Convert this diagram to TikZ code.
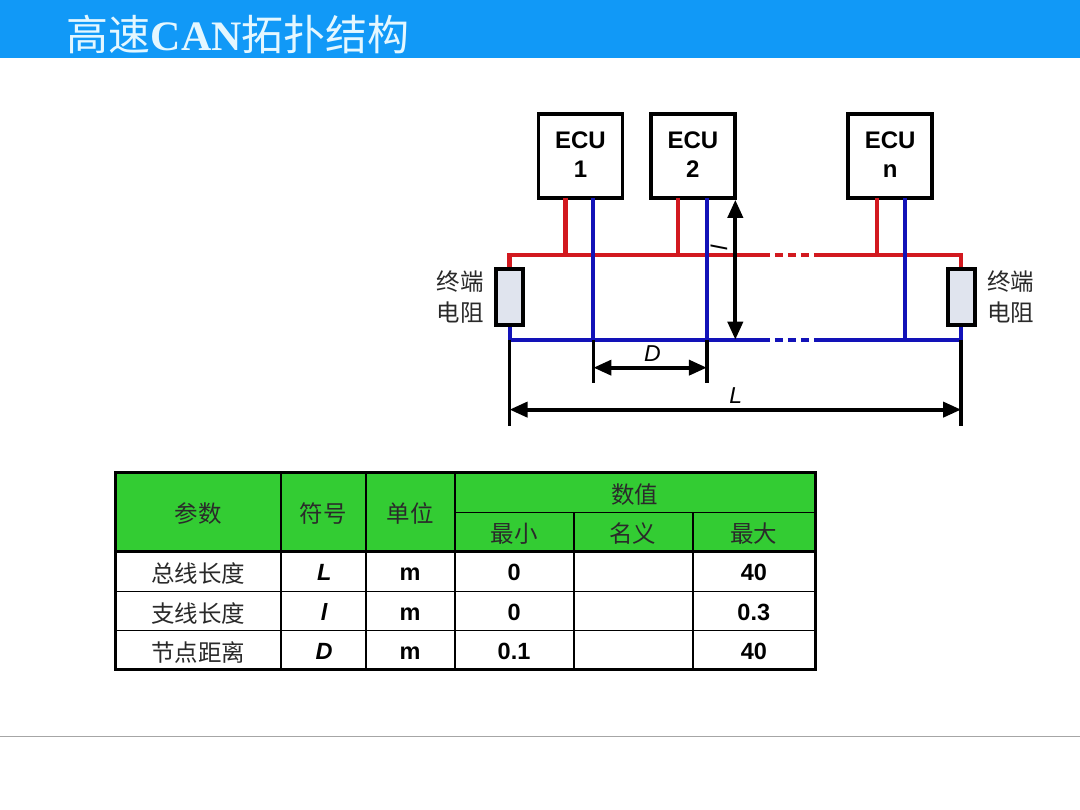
\documentclass[tikz,border=0pt]{standalone}
\usepackage{fontspec}
\setmainfont{Liberation Sans}
\newfontfamily\cjk{Noto Sans CJK SC}
\newfontfamily\titlelatin{Liberation Serif}
\usetikzlibrary{arrows.meta,positioning}
\definecolor{headblue}{HTML}{1199F7}
\definecolor{titletext}{HTML}{E4F7FF}
\definecolor{wirered}{HTML}{D2191F}
\definecolor{wireblue}{HTML}{1212B8}
\definecolor{resfill}{HTML}{E0E4EE}
\definecolor{tablegreen}{HTML}{33CC33}
\definecolor{cjktext}{HTML}{2A2A2A}

\begin{document}
\begin{tikzpicture}[x=1pt,y=-1pt]
        \tikzstyle{every node}+=[inner sep=0pt]
        \tikzstyle{ecubox}=[draw=black,fill=white,line width=3.8pt,minimum width=84pt,minimum height=84pt,align=center,text depth=2.5pt,font=\fontsize{24}{29}\selectfont\bfseries]
        \tikzstyle{resbox}=[draw=black,fill=resfill,line width=4pt,minimum width=27pt,minimum height=56pt]
        \tikzstyle{redwire}=[draw=wirered,line width=4.2pt]
        \tikzstyle{bluewire}=[draw=wireblue,line width=4pt]
        \tikzstyle{dimline}=[draw=black,line width=3.8pt]
        \tikzstyle{dimarrow}=[draw=black,line width=3.8pt,{Triangle[length=18pt,width=15pt]}-{Triangle[length=18pt,width=15pt]}]
        \tikzstyle{cjklabel}=[font=\fontsize{23.5}{28}\cjk,text=cjktext]
        \tikzstyle{latincell}=[font=\fontsize{23.5}{28}\selectfont\bfseries,text=black]
        \tikzstyle{symcell}=[font=\fontsize{23.5}{28}\selectfont\bfseries\itshape,text=black]
        \tikzstyle{dimlabel}=[font=\fontsize{23}{27}\selectfont\itshape,text=black]
        \tikzstyle{thinrule}=[draw=black,line width=1.8pt]
        \tikzstyle{thickrule}=[draw=black,line width=3.4pt]
        % page and title bar
        \fill [white] (0,0) rectangle (1080,810);
        \fill [headblue] (0,0) rectangle (1080,58);
        \node (title) at (238,35) [font=\fontsize{42}{48}\cjk,text=titletext] {高速{\titlelatin\bfseries CAN}拓扑结构};
        \draw [gray!70,line width=1pt] (0,737.5) -- (1080,737.5);
        % ECUs and terminating resistors
        \node (ecuA) at (580.5,156) [ecubox] {ECU\\1};
        \node (ecuB) at (693,156) [ecubox] {ECU\\2};
        \node (ecuN) at (890.5,156) [ecubox] {ECU\\n};
        \node (resL) at (509.5,297.5) [resbox] {};
        \node (resR) at (961.5,297.5) [resbox] {};
        \node (termL) at (460,282) [cjklabel] {终端};
        \node (ohmL) at (460,313) [cjklabel] {电阻};
        \node (termR) at (1011,282) [cjklabel] {终端};
        \node (ohmR) at (1011,313) [cjklabel] {电阻};
        % points on the two buses
        \coordinate (hiL) at (509.5,255);
        \coordinate (hiR) at (961.5,255);
        \coordinate (hiGapA) at (770,255);
        \coordinate (hiDotA) at (775,255);
        \coordinate (hiDotB) at (809,255);
        \coordinate (hiGapB) at (814,255);
        \coordinate (loL) at (509.5,340);
        \coordinate (loR) at (961.5,340);
        \coordinate (loGapA) at (770,340);
        \coordinate (loDotA) at (775,340);
        \coordinate (loDotB) at (809,340);
        \coordinate (loGapB) at (814,340);
        \coordinate (hiA) at (565.5,255);
        \coordinate (hiB) at (678.5,255);
        \coordinate (hiN) at (877,255);
        \coordinate (loA) at (593.5,340);
        \coordinate (loB) at (707,340);
        \coordinate (loN) at (905,340);
        \coordinate (topA) at (565.5,198);
        \coordinate (topB) at (678.5,198);
        \coordinate (topN) at (877,198);
        \coordinate (botA) at (593.5,198);
        \coordinate (botB) at (707,198);
        \coordinate (botN) at (905,198);
        % bus wires
        \draw [redwire] (resL.north) -- (hiL) -- (hiGapA);
        \draw [redwire] (hiGapB) -- (hiR) -- (resR.north);
        \draw [redwire,dash pattern=on 8pt off 5pt] (hiDotA) -- (hiDotB);
        \draw [redwire] (topA) -- (hiA);
        \draw [redwire] (topB) -- (hiB);
        \draw [redwire] (topN) -- (hiN);
        \draw [bluewire] (resL.south) -- (loL) -- (loGapA);
        \draw [bluewire] (loGapB) -- (loR) -- (resR.south);
        \draw [bluewire,dash pattern=on 8pt off 5pt] (loDotA) -- (loDotB);
        \draw [bluewire] (botA) -- (loA);
        \draw [bluewire] (botB) -- (loB);
        \draw [bluewire] (botN) -- (loN);
        % dimensions
        \coordinate (tickA) at (593.5,383);
        \coordinate (tickB) at (707,383);
        \coordinate (tickL) at (509.5,426);
        \coordinate (tickR) at (961.5,426);
        \coordinate (stubTop) at (735.5,200);
        \coordinate (stubBot) at (735.5,340);
        \coordinate (dLeft) at (593.5,368);
        \coordinate (dRight) at (707,368);
        \coordinate (lenLeft) at (509.5,410);
        \coordinate (lenRight) at (961.5,410);
        \draw [dimline] (loA) -- (tickA);
        \draw [dimline] (loB) -- (tickB);
        \draw [dimline] (loL) -- (tickL);
        \draw [dimline] (loR) -- (tickR);
        \draw [dimarrow] (stubTop) -- (stubBot);
        \draw [dimarrow] (dLeft) -- (dRight);
        \draw [dimarrow] (lenLeft) -- (lenRight);
        \node (labelStub) at (719,247.5) [dimlabel,rotate=-90] {l};
        \node (labelD) at (652.5,354) [dimlabel] {D};
        \node (labelL) at (736,396) [dimlabel] {L};
        % table
        \fill [tablegreen] (115,473) rectangle (815.5,552);
        \draw [thinrule] (455,513) -- (815.5,513);
        \draw [thinrule] (115,592) -- (815.5,592);
        \draw [thinrule] (115,631) -- (815.5,631);
        \draw [thinrule] (281,473) -- (281,670);
        \draw [thinrule] (366,473) -- (366,670);
        \draw [thinrule] (455,473) -- (455,670);
        \draw [thinrule] (574,513) -- (574,670);
        \draw [thinrule] (693,513) -- (693,670);
        \draw [thickrule] (115,552) -- (815.5,552);
        \draw [thickrule] (115,473) rectangle (815.5,670);
        \node (headParam) at (198,514) [cjklabel] {参数};
        \node (headSym) at (323,514) [cjklabel] {符号};
        \node (headUnit) at (410,514) [cjklabel] {单位};
        \node (headVal) at (635,495) [cjklabel] {数值};
        \node (headMin) at (514,534) [cjklabel] {最小};
        \node (headNom) at (633,534) [cjklabel] {名义};
        \node (headMax) at (754,534) [cjklabel] {最大};
        \node (rowBus) at (198,574) [cjklabel] {总线长度};
        \node (rowStub) at (198,614) [cjklabel] {支线长度};
        \node (rowNode) at (198,653) [cjklabel] {节点距离};
        \node (symBus) at (324,573) [symcell] {L};
        \node (symStub) at (324,613) [symcell] {l};
        \node (symNode) at (324,652) [symcell] {D};
        \node (unitBus) at (410,575) [latincell] {m};
        \node (unitStub) at (410,615) [latincell] {m};
        \node (unitNode) at (410,654) [latincell] {m};
        \node (minBus) at (514,573) [latincell] {0};
        \node (minStub) at (514,613) [latincell] {0};
        \node (minNode) at (514,652) [latincell] {0.1};
        \node (maxBus) at (754,573) [latincell] {40};
        \node (maxStub) at (754,613) [latincell] {0.3};
        \node (maxNode) at (754,652) [latincell] {40};
\end{tikzpicture}
\end{document}
